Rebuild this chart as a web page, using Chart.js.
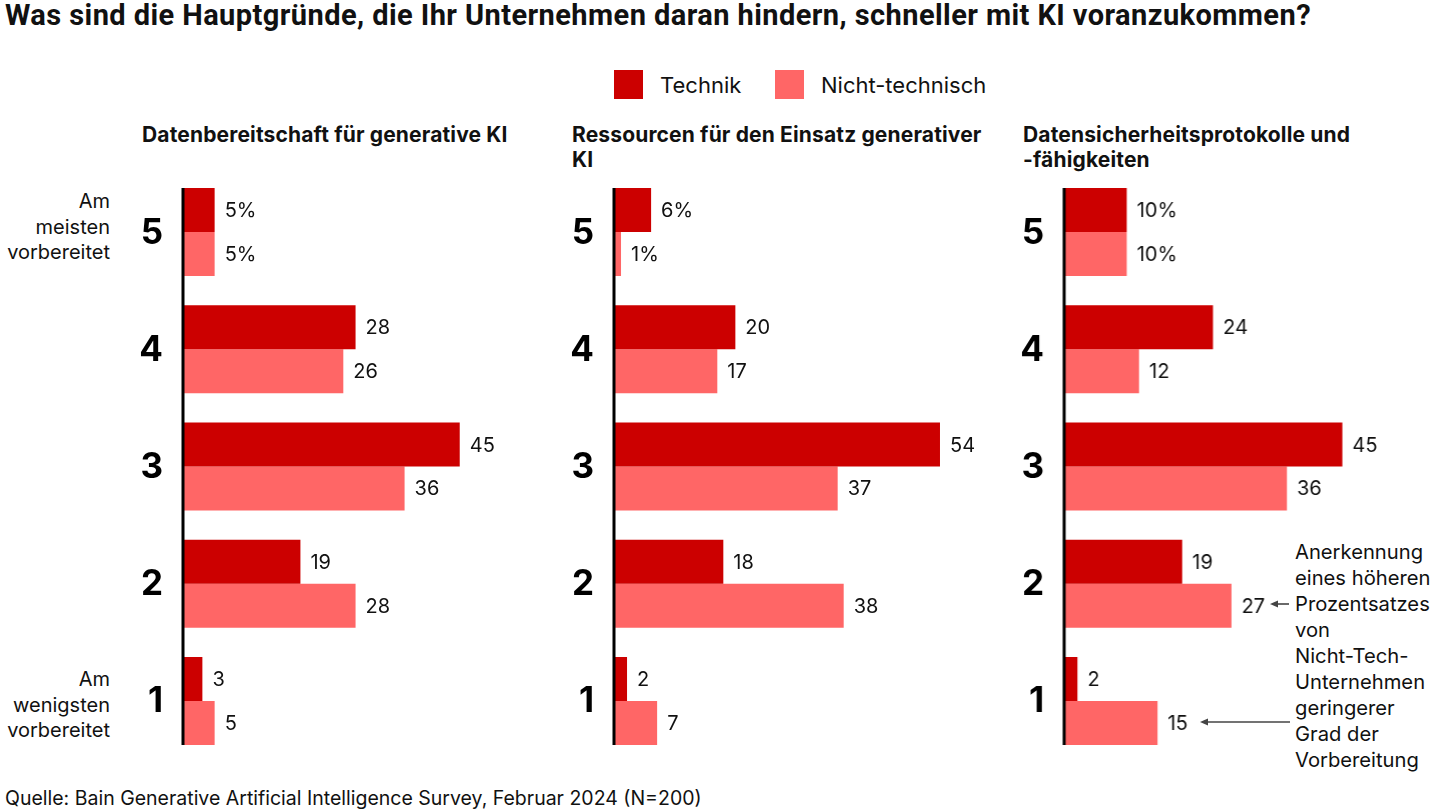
<!DOCTYPE html>
<html>
<head>
<meta charset="utf-8">
<script src="https://cdn.jsdelivr.net/npm/chart.js@4.4.1/dist/chart.umd.min.js"></script>
<style>
  body { margin: 0; width: 1440px; height: 810px; background: #fff; position: relative; overflow: hidden;
         font-family: Inter, "Noto Sans", sans-serif; color: #111; }
  .abs { position: absolute; white-space: nowrap; }
  #title { left: 5px; top: -2px; font-family: Roboto, Inter, sans-serif; font-size: 29px; font-weight: 700; line-height: 34px; }
  .sq { position: absolute; width: 29px; height: 29px; top: 70px; }
  .leg { top: 71px; font-size: 22px; line-height: 28px; }
  .ptitle { font-size: 21px; font-weight: 700; line-height: 25px; top: 122px; letter-spacing: 0.15px; }
  .side { font-size: 20px; line-height: 25.5px; text-align: right; width: 110px; left: 0; }
  .note { left: 1295px; top: 539px; font-size: 20.2px; line-height: 26px; }
  #src { left: 5px; top: 785px; font-size: 19.5px; line-height: 26px; }
  canvas { position: absolute; }
</style>
</head>
<body>
<div id="title" class="abs">Was sind die Hauptgründe, die Ihr Unternehmen daran hindern, schneller mit KI voranzukommen?</div>

<div class="sq" style="left:614px;background:#cc0000"></div>
<div class="abs leg" style="left:660px">Technik</div>
<div class="sq" style="left:775px;background:#ff6666"></div>
<div class="abs leg" style="left:821px">Nicht-technisch</div>

<div class="abs ptitle" style="left:142px">Datenbereitschaft für generative KI</div>
<div class="abs ptitle" style="left:572px">Ressourcen für den Einsatz generativer<br>KI</div>
<div class="abs ptitle" style="left:1023px">Datensicherheitsprotokolle und<br>-fähigkeiten</div>

<div class="abs side" style="top:189px">Am<br>meisten<br>vorbereitet</div>
<div class="abs side" style="top:667px">Am<br>wenigsten<br>vorbereitet</div>

<div class="abs note">Anerkennung<br>eines höheren<br>Prozentsatzes<br>von<br>Nicht-Tech-<br>Unternehmen<br>geringerer<br>Grad der<br>Vorbereitung</div>

<svg class="abs" style="left:0;top:0" width="1440" height="810">
  <g stroke="#444" stroke-width="1.6" fill="#444">
    <line x1="1289" y1="604" x2="1276" y2="604"/>
    <polygon points="1270,604 1278,600.5 1278,607.5" stroke="none"/>
    <line x1="1290" y1="722" x2="1206" y2="722"/>
    <polygon points="1200,722 1208,718.5 1208,725.5" stroke="none"/>
  </g>
</svg>

<div id="src" class="abs">Quelle: Bain Generative Artificial Intelligence Survey, Februar 2024 (N=200)</div>

<canvas id="c1"></canvas>
<canvas id="c2"></canvas>
<canvas id="c3"></canvas>

<script>
const levels = ['5', '4', '3', '2', '1'];
const seriesNames = ['Technik', 'Nicht-technisch'];
const colors = ['#cc0000', '#ff6666'];

const readinessTech = [5, 28, 45, 19, 3];
const readinessNonTech = [5, 26, 36, 28, 5];
const resourcesTech = [6, 20, 54, 18, 2];
const resourcesNonTech = [1, 17, 37, 38, 7];
const securityTech = [10, 24, 45, 19, 2];
const securityNonTech = [10, 12, 36, 27, 15];

// squeeze the headline to the reference width
const title = document.getElementById('title');
const natural = title.getBoundingClientRect().width;
const chars = title.textContent.length;
title.style.letterSpacing = ((1306 - natural) / chars) + 'px';

// axis line only along the bars, plus the big level numbers
const axisLine = {
  id: 'axisLine',
  afterDatasetsDraw(chart) {
    const ctx = chart.ctx;
    const first = chart.getDatasetMeta(0).data[0];
    const last = chart.getDatasetMeta(1).data[levels.length - 1];
    ctx.save();
    ctx.strokeStyle = '#000';
    ctx.lineWidth = 3;
    ctx.beginPath();
    const x = chart.chartArea.left - 1;
    ctx.moveTo(x, first.y - first.height / 2);
    ctx.lineTo(x, last.y + last.height / 2);
    ctx.stroke();

    ctx.font = 'bold 35px Inter, "Noto Sans", sans-serif';
    ctx.fillStyle = '#000';
    ctx.textAlign = 'right';
    ctx.textBaseline = 'middle';
    const yScale = chart.scales.y;
    levels.forEach((lv, i) => {
      ctx.fillText(lv, chart.chartArea.left - 21, yScale.getPixelForTick(i) + 1);
    });
    ctx.restore();
  }
};

const valueLabels = {
  id: 'valueLabels',
  afterDatasetsDraw(chart) {
    const ctx = chart.ctx;
    ctx.save();
    ctx.font = '20px Inter, "Noto Sans", sans-serif';
    ctx.fillStyle = '#111';
    ctx.textBaseline = 'middle';
    chart.data.datasets.forEach((ds, di) => {
      chart.getDatasetMeta(di).data.forEach((bar, i) => {
        const txt = ds.data[i] + (i === 0 ? '%' : '');
        ctx.fillText(txt, bar.x + 10, bar.y + 1);
      });
    });
    ctx.restore();
  }
};

function makePanel(id, axisX, pxPerUnit, tech, nonTech) {
  const yWidth = 60;
  const maxVal = 55;
  const areaW = maxVal * pxPerUnit;
  const canvas = document.getElementById(id);
  canvas.style.left = (axisX - yWidth) + 'px';
  canvas.style.top = '170px';
  canvas.style.width = (yWidth + areaW + 45) + 'px';
  canvas.style.height = '600px';
  canvas.width = yWidth + areaW + 45;
  canvas.height = 600;

  return new Chart(canvas, {
    type: 'bar',
    data: {
      labels: levels,
      datasets: [
        { label: seriesNames[0], data: tech, backgroundColor: colors[0] },
        { label: seriesNames[1], data: nonTech, backgroundColor: colors[1] }
      ]
    },
    options: {
      indexAxis: 'y',
      responsive: false,
      animation: false,
      categoryPercentage: 0.75,
      barPercentage: 1,
      layout: { padding: { top: 3.4, bottom: 10.4, right: 45 } },
      plugins: { legend: { display: false }, tooltip: { enabled: false } },
      scales: {
        x: { display: false, min: 0, max: maxVal },
        y: {
          grid: { display: false, drawTicks: false },
          border: { display: false },
          ticks: { display: false },
          afterFit(scale) { scale.width = yWidth; }
        }
      }
    },
    plugins: [axisLine, valueLabels]
  });
}

makePanel('c1', 184, 6.13, readinessTech, readinessNonTech);
makePanel('c2', 615, 6.02, resourcesTech, resourcesNonTech);
makePanel('c3', 1065, 6.16, securityTech, securityNonTech);
</script>
</body>
</html>
